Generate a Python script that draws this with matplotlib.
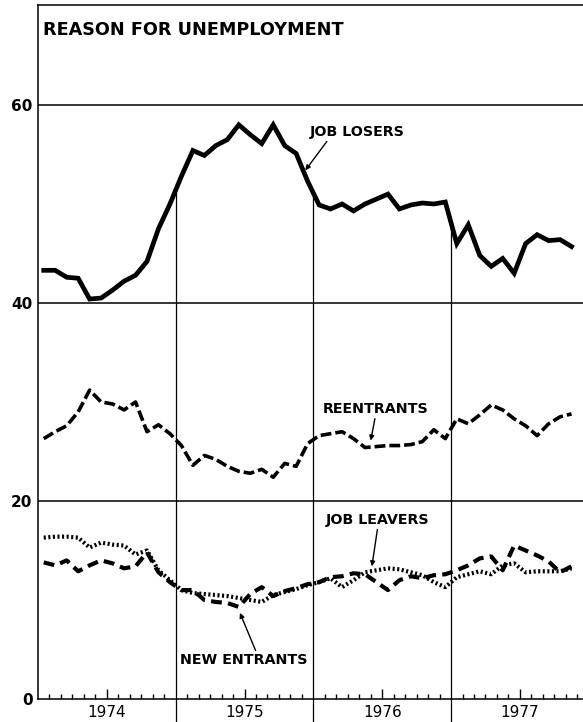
import numpy as np
import matplotlib
matplotlib.use("Agg")
import matplotlib.pyplot as plt

# monthly values, Jan 1974 - Nov 1977 (percent of unemployed)
job_losers = [43.3, 43.3, 42.6, 42.5, 40.4, 40.5, 41.3, 42.2, 42.8, 44.2, 47.5, 50.0,
              52.8, 55.4, 54.9, 55.9, 56.5, 58.0, 57.0, 56.1, 58.0, 55.9, 55.1, 52.3,
              49.9, 49.5, 50.0, 49.3, 50.0, 50.5, 51.0, 49.5, 49.9, 50.1, 50.0, 50.2,
              46.0, 47.9, 44.8, 43.7, 44.5, 43.0, 46.0, 46.9, 46.3, 46.4, 45.7]
reentrants = [26.3, 27.0, 27.6, 29.0, 31.2, 30.0, 29.8, 29.2, 30.0, 27.0, 27.7, 26.8,
              25.6, 23.6, 24.6, 24.2, 23.5, 23.0, 22.8, 23.2, 22.4, 23.8, 23.5, 25.8,
              26.6, 26.8, 27.0, 26.3, 25.4, 25.5, 25.6, 25.6, 25.7, 26.0, 27.2, 26.3,
              28.3, 27.8, 28.7, 29.7, 29.2, 28.3, 27.6, 26.6, 27.8, 28.5, 28.8]
job_leavers = [16.3, 16.4, 16.4, 16.3, 15.3, 15.8, 15.6, 15.5, 14.6, 15.0, 13.0, 12.0,
               11.0, 10.7, 10.6, 10.5, 10.4, 10.2, 10.0, 9.8, 10.5, 10.8, 11.1, 11.5,
               11.8, 12.2, 11.3, 12.0, 12.8, 13.0, 13.2, 13.1, 12.8, 12.5, 11.8, 11.3,
               12.3, 12.6, 12.9, 12.6, 13.5, 13.7, 12.8, 12.9, 12.9, 12.9, 13.2]
new_entrants = [13.8, 13.5, 14.0, 12.9, 13.5, 14.0, 13.7, 13.2, 13.4, 14.8, 12.8, 11.8,
                11.0, 11.0, 10.0, 9.8, 9.7, 9.3, 10.6, 11.3, 10.4, 10.9, 11.2, 11.6,
                11.8, 12.3, 12.4, 12.7, 12.6, 11.8, 11.0, 12.0, 12.4, 12.2, 12.5, 12.6,
                13.0, 13.5, 14.2, 14.4, 13.0, 15.5, 15.0, 14.5, 13.9, 12.8, 13.4]
years = ["1974", "1975", "1976", "1977"]

months = np.arange(len(job_losers)) + 0.5   # mid-month positions

fig = plt.figure(figsize=(5.83, 7.22), dpi=100)
ax = fig.add_axes([38/583, 23/722, 545/583, 694/722])
ax.set_xlim(0, 47.5)
ax.set_ylim(0, 70.1)

# horizontal rules
for v in [20, 40, 60]:
    ax.axhline(v, color="black", lw=1.1, zorder=1)

# year separators: from below the axis up to the job losers line
for i in range(1, len(years)):
    top = np.interp(12*i, months, job_losers)
    ax.plot([12*i, 12*i], [-2.3, top], color="black", lw=0.9, clip_on=False, zorder=1)

ax.plot(months, job_losers, color="black", lw=3.4, solid_joinstyle="miter", zorder=3)
ax.plot(months, reentrants, color="black", lw=2.6, linestyle=(0, (3.0, 1.1)), zorder=3)
ax.plot(months, job_leavers, color="black", lw=3.0, linestyle=(0, (0.5, 0.6)), zorder=3)
ax.plot(months, new_entrants, color="black", lw=3.0, linestyle=(0, (2.6, 1.5)), zorder=3)

ax.spines["right"].set_visible(False)
for s in ["left", "top", "bottom"]:
    ax.spines[s].set_linewidth(1.1)

ax.set_yticks([0, 20, 40, 60])
ax.set_yticklabels(["0", "20", "40", "60"], fontsize=11, fontweight="bold")
ax.tick_params(axis="y", length=0, pad=4)

ax.set_xticks([12*i + 6 for i in range(len(years))])
ax.set_xticklabels(years, fontsize=11)
ax.set_xticks([m for m in range(1, 48) if m % 12 not in (0, 6)], minor=True)
ax.tick_params(axis="x", which="major", direction="in", length=7, width=1.0, pad=4)
ax.tick_params(axis="x", which="minor", direction="in", length=3.8, width=1.0)

ax.text(0.4, 67.6, "REASON FOR UNEMPLOYMENT", fontsize=12.7, fontweight="bold", va="center")

lab = dict(fontsize=10.3, fontweight="bold", va="center", ha="left")
arr = dict(arrowstyle="-|>", color="black", lw=1.0, mutation_scale=7)
ax.annotate("JOB LOSERS", xy=(23.3, 53.4), xytext=(23.7, 57.3), **lab,
            arrowprops=dict(arr, shrinkA=0, shrinkB=0, relpos=(0.2, 0.0)))
ax.annotate("REENTRANTS", xy=(29.0, 26.1), xytext=(24.8, 29.3), **lab,
            arrowprops=dict(arr, shrinkA=0, shrinkB=0, relpos=(0.5, 0.0)))
ax.annotate("JOB LEAVERS", xy=(29.1, 13.4), xytext=(25.1, 18.1), **lab,
            arrowprops=dict(arr, shrinkA=0, shrinkB=0, relpos=(0.5, 0.0)))
ax.annotate("NEW ENTRANTS", xy=(17.6, 8.7), xytext=(12.4, 3.9), **lab,
            arrowprops=dict(arr, shrinkA=0, shrinkB=0, relpos=(0.6, 1.0)))

fig.savefig("out.png", dpi=100)
